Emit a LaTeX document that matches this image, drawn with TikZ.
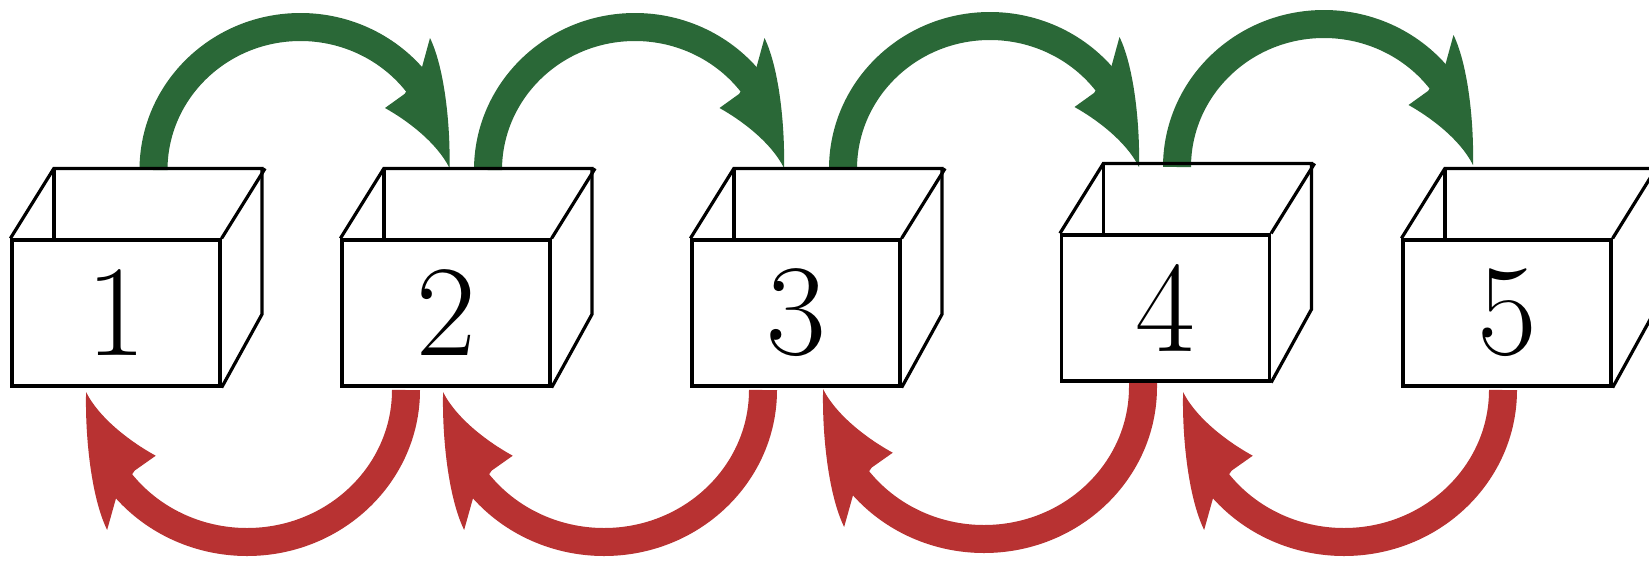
\documentclass[tikz,border=0pt]{standalone}
\usetikzlibrary{calc}
\definecolor{arrgreen}{RGB}{42,104,55}
\definecolor{arrred}{RGB}{184,50,50}
\newcommand\openbox[3]{%
  \node[front] (#1) at (#2) {#3};
  \draw[boxline] (#1.north west) -- ++(43.5,-70) -- ++(208,0) -- ++(0,146) -- (#1.south east);
  \draw[boxline] (#1.north east) -- ++(43.5,-70);
  \draw[boxline] ($(#1.north west)+(43.5,-70)$) -- ++(0,70);
}
% curved arrow head, drawn in the frame of the arc centre
\newcommand\curvehead[3]{%
  \fill[#1, shift={(#2)}, #3] (129.5,-132) .. controls (144,-102) and (150,-45) .. (149,-2)
     .. controls (136,-28) and (106,-50) .. (84.5,-62) -- (104,-76) -- (121,-101) -- cycle;}
\begin{document}
\begin{tikzpicture}[x=1pt,y=-1pt,
  boxline/.style={line width=3.2pt, line join=miter, draw=black},
  front/.style={boxline, fill=white, minimum width=208pt, minimum height=146pt,
    inner sep=0pt, font=\fontsize{130}{130}\selectfont},
  gshaft/.style={draw=arrgreen, line width=28pt},
  rshaft/.style={draw=arrred, line width=28pt},
]
\fill[white] (0,0) rectangle (1649,563);
\useasboundingbox (0,0) rectangle (1649,563);

% arc centres
\coordinate (g1c) at (300.5,170); \coordinate (g2c) at (635,170);
\coordinate (g3c) at (990,169);   \coordinate (g4c) at (1324,167);
\coordinate (r1c) at (247,390);   \coordinate (r2c) at (604,390);
\coordinate (r3c) at (984,387);   \coordinate (r4c) at (1344,390);
% arrow start points
\coordinate (g1s) at ($(g1c)+(-147,0)$); \coordinate (g2s) at ($(g2c)+(-147,0)$);
\coordinate (g3s) at ($(g3c)+(-147,0)$); \coordinate (g4s) at ($(g4c)+(-147,0)$);
\coordinate (r1s) at ($(r1c)+(159,0)$);  \coordinate (r2s) at ($(r2c)+(159,0)$);
\coordinate (r3s) at ($(r3c)+(159,-6)$); \coordinate (r4s) at ($(r4c)+(159,0)$);

% green arrows (forward)
\foreach \k in {1,2,3,4}{
  \draw[gshaft] (g\k s) arc[start angle=180, end angle=323, x radius=147, y radius=143];
  \curvehead{arrgreen}{g\k c}{}
}
% red arrows (backward)
\foreach \k in {1,2,4}{
  \draw[rshaft] (r\k s) arc[start angle=0, end angle=143, x radius=159, y radius=152];
  \curvehead{arrred}{r\k c}{rotate=180, xscale=1.08, yscale=1.06}
}
\draw[rshaft] (r3s) -- ++(0,6) arc[start angle=0, end angle=143, x radius=159, y radius=152];
\curvehead{arrred}{r3c}{rotate=180, xscale=1.08, yscale=1.06}

% boxes
\openbox{b1}{116,313}{1}
\openbox{b2}{446,313}{2}
\openbox{b3}{796,313}{3}
\openbox{b4}{1165.5,308}{4}
\openbox{b5}{1507,313}{5}
\end{tikzpicture}
\end{document}
